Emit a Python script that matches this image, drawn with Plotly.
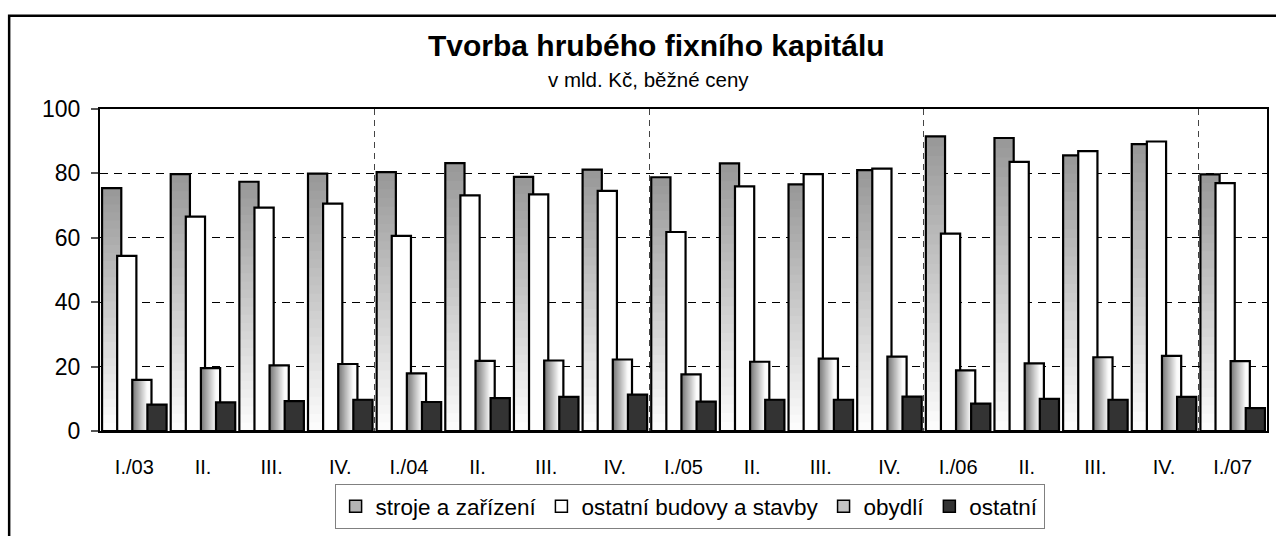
import plotly.graph_objects as go

categories = ["I./03", "II.", "III.", "IV.", "I./04", "II.", "III.", "IV.",
              "I./05", "II.", "III.", "IV.", "I./06", "II.", "III.", "IV.", "I./07"]
stroje = [75.4, 79.8, 77.4, 79.9, 80.4, 83.2, 78.9, 81.2, 78.8, 83.1, 76.6, 81.0,
          91.5, 91.0, 85.6, 89.1, 79.7]
budovy = [54.4, 66.6, 69.4, 70.6, 60.6, 73.2, 73.5, 74.6, 61.8, 76.0, 79.8, 81.5,
          61.3, 83.6, 86.9, 89.9, 77.0]
obydli = [15.9, 19.5, 20.4, 20.8, 17.9, 21.8, 21.9, 22.2, 17.6, 21.5, 22.5, 23.1,
          18.8, 21.0, 22.9, 23.3, 21.7]
ostatni = [8.2, 8.9, 9.3, 9.7, 9.0, 10.2, 10.6, 11.3, 9.1, 9.7, 9.7, 10.7,
           8.5, 10.0, 9.7, 10.6, 7.1]
series_names = ["stroje a zařízení", "ostatní budovy a stavby", "obydlí", "ostatní"]

FONT = "Liberation Sans, Arial, sans-serif"
W, H = 1276, 536
ML, MT = 100, 109
MR = W - 1269
MB = H - 437
x = list(range(len(categories)))
bw = 0.28
offs = [-0.47, -0.25, -0.03, 0.19]


def lerp(c1, c2, t):
    return "rgb(%d,%d,%d)" % tuple(round(a + (b - a) * t) for a, b in zip(c1, c2))


fig = go.Figure()

# stroje a zařízení: vertical gradient (dark top -> light bottom), nested bars
N = 30
top_c, bot_c = (153, 153, 153), (252, 252, 252)
for k in range(N):
    frac = (N - k) / N
    fig.add_trace(go.Bar(x=x, y=[v * frac for v in stroje], offset=offs[0], width=bw,
                         marker=dict(color=lerp(top_c, bot_c, k / (N - 1)), line=dict(width=0)),
                         showlegend=False, hoverinfo="skip"))
fig.add_trace(go.Bar(x=x, y=stroje, offset=offs[0], width=bw,
                     marker=dict(color="rgba(0,0,0,0)", line=dict(color="black", width=2.2)),
                     showlegend=False, name=series_names[0]))

# ostatní budovy a stavby: white
fig.add_trace(go.Bar(x=x, y=budovy, offset=offs[1], width=bw,
                     marker=dict(color="white", line=dict(color="black", width=2.2)),
                     showlegend=False, name=series_names[1]))

# obydlí: horizontal gradient (dark left -> light right), nested bars
M = 20
left_c, right_c = (120, 120, 120), (252, 252, 252)
for k in range(M):
    t = min(1.0, (k / (M - 1)) / 0.8)
    fig.add_trace(go.Bar(x=x, y=obydli, offset=offs[2] + bw * k / M, width=bw * (M - k) / M,
                         marker=dict(color=lerp(left_c, right_c, t), line=dict(width=0)),
                         showlegend=False, hoverinfo="skip"))
fig.add_trace(go.Bar(x=x, y=obydli, offset=offs[2], width=bw,
                     marker=dict(color="rgba(0,0,0,0)", line=dict(color="black", width=2.2)),
                     showlegend=False, name=series_names[2]))

# ostatní: dark
fig.add_trace(go.Bar(x=x, y=ostatni, offset=offs[3], width=bw,
                     marker=dict(color="#333333", line=dict(color="black", width=2.2)),
                     showlegend=False, name=series_names[3]))

# legend entries
leg_colors = ["#b4b4b4", "white", "#c4c4c4", "#333333"]
for name, col in zip(series_names, leg_colors):
    fig.add_trace(go.Bar(x=[None], y=[None], name=name,
                         marker=dict(color=col, line=dict(color="black", width=1.5))))

pw = W - ML - MR
ph = H - MT - MB


def px_x(p):
    return (p - ML) / pw


def px_y(p):
    return (H - MB - p) / ph


fig.update_layout(
    width=W, height=H,
    margin=dict(l=ML, r=MR, t=MT, b=MB),
    barmode="overlay",
    paper_bgcolor="white", plot_bgcolor="white",
    font=dict(family=FONT, color="black"),
    showlegend=True,
    legend=dict(orientation="h", x=px_x(335), y=px_y(491), xanchor="left", yanchor="top",
                font=dict(size=22.5, family=FONT, color="black"),
                bordercolor="#808080", borderwidth=1, bgcolor="white",
                itemwidth=30, tracegroupgap=0),
    xaxis=dict(range=[-0.5, len(categories) - 0.5], tickmode="array", tickvals=x,
               ticktext=categories, tickfont=dict(size=20, family=FONT, color="black"),
               showline=True, linecolor="black", linewidth=2, mirror=True,
               showgrid=False, ticks="", ticklabelstandoff=17, zeroline=False,
               minor=dict(tick0=-0.5, dtick=4, showgrid=True, gridcolor="#444444",
                          griddash="6px,5px", gridwidth=1, ticks="")),
    yaxis=dict(range=[0, 100], dtick=20, tickfont=dict(size=23, family=FONT, color="black"),
               showline=True, linecolor="black", linewidth=2, mirror=True,
               showgrid=True, gridcolor="black", griddash="8px,6px", gridwidth=1,
               ticks="outside", ticklen=7, tickcolor="#555555", tickwidth=1.5,
               ticklabelstandoff=6, zeroline=False),
    annotations=[
        dict(text="<b>Tvorba hrubého fixního kapitálu</b>", x=px_x(657), y=px_y(44),
             xref="paper", yref="paper", xanchor="center", yanchor="middle", showarrow=False,
             font=dict(size=30, family=FONT, color="black")),
        dict(text="v mld. Kč, běžné ceny", x=px_x(649), y=px_y(79),
             xref="paper", yref="paper", xanchor="center", yanchor="middle", showarrow=False,
             font=dict(size=20.5, family=FONT, color="black")),
    ],
    shapes=[
        dict(type="rect", xref="paper", yref="paper", x0=px_x(9), x1=px_x(1320),
             y0=px_y(14), y1=px_y(580), line=dict(color="black", width=2.5),
             fillcolor="rgba(0,0,0,0)", layer="below"),
    ],
)

fig.write_html("out.html", config={"displayModeBar": False},
               post_script="document.body.style.margin='0';document.body.style.overflow='hidden';")
